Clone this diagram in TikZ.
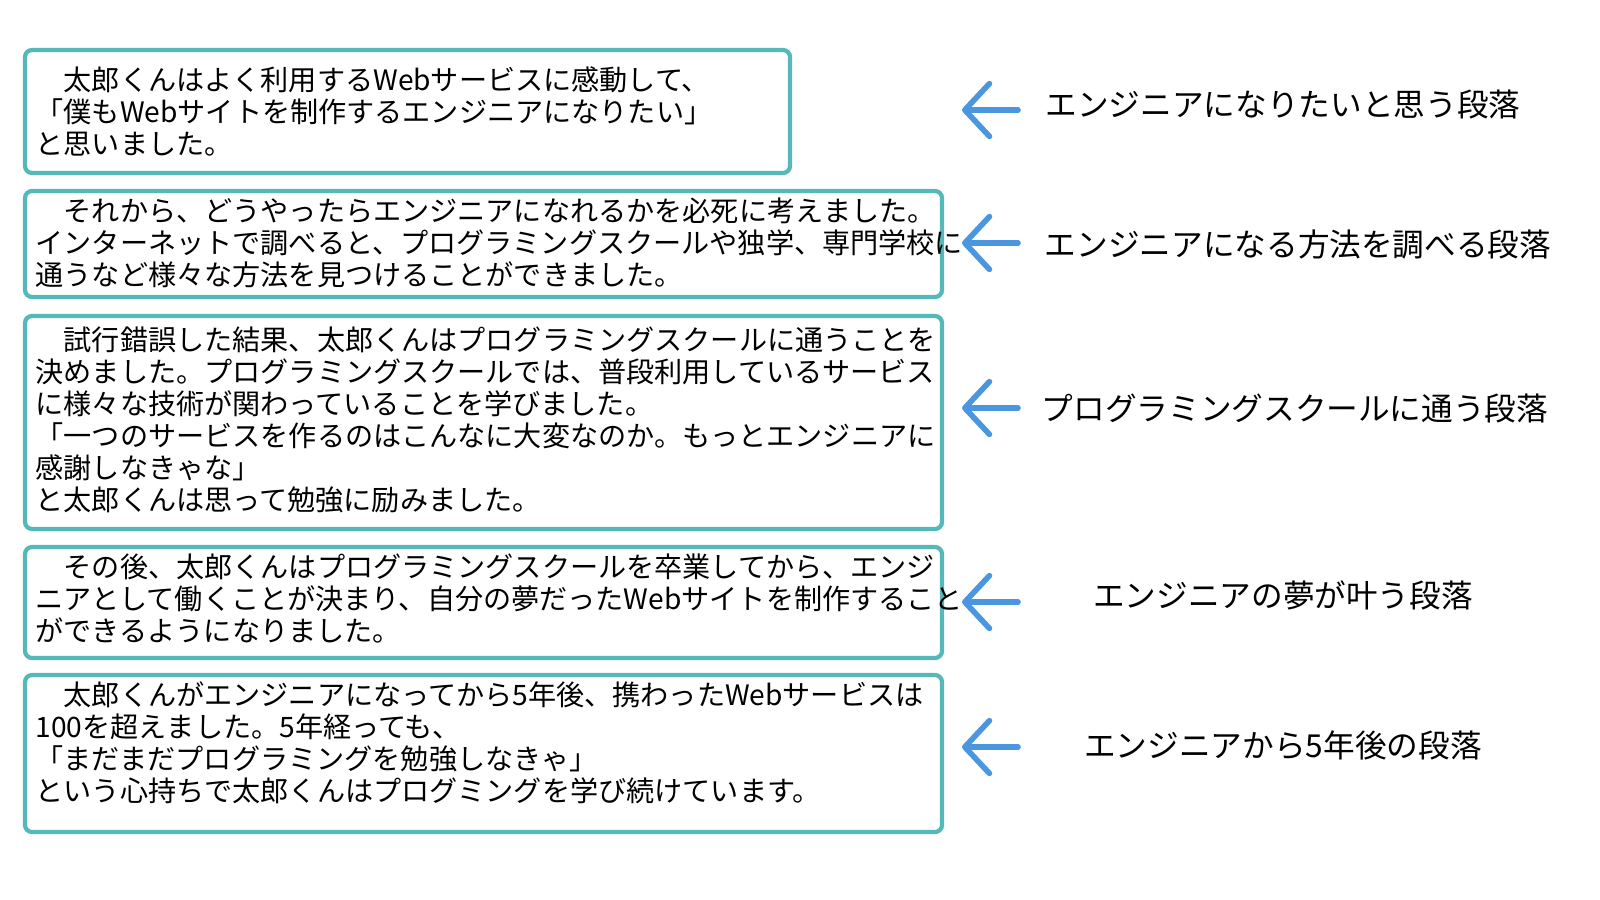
\documentclass[tikz,border=0pt]{standalone}
\usepackage{fontspec}
\setmainfont{Noto Sans CJK JP}
\usetikzlibrary{arrows.meta}

\definecolor{boxteal}{HTML}{55B9B9}
\definecolor{arrowblue}{HTML}{4A97E0}

\tikzset{
  parabox/.style={draw=boxteal, line width=1.2pt, rounded corners=2pt},
  paratext/.style={anchor=north west, align=left, inner sep=0pt, font=\fontsize{8pt}{9.1pt}\selectfont},
  backarrow/.style={draw=arrowblue, line width=1.6pt, line cap=round,
    -{Straight Barb[length=7pt, width=15pt, line cap=round, line join=round]}},
  paralabel/.style={font=\fontsize{9pt}{11pt}\selectfont}
}

\begin{document}
\begin{tikzpicture}[x=0.01cm, y=-0.01cm]
    \useasboundingbox (0,0) rectangle (1600,900);

    % boxes
    \draw[parabox] (25,50) rectangle (790,173);
    \draw[parabox] (25,191) rectangle (942,297);
    \draw[parabox] (25,316) rectangle (942,529);
    \draw[parabox] (25,547) rectangle (942,658);
    \draw[parabox] (25,675) rectangle (942,832);

    % paragraphs
    \node[paratext] (p1) at (35,66) {　太郎くんはよく利用するWebサービスに感動して、\\「僕もWebサイトを制作するエンジニアになりたい」\\と思いました。};
    \node[paratext] (p2) at (35,197) {　それから、どうやったらエンジニアになれるかを必死に考えました。\\インターネットで調べると、プログラミングスクールや独学、専門学校に\\通うなど様々な方法を見つけることができました。};
    \node[paratext] (p3) at (35,326) {　試行錯誤した結果、太郎くんはプログラミングスクールに通うことを\\決めました。プログラミングスクールでは、普段利用しているサービス\\に様々な技術が関わっていることを学びました。\\「一つのサービスを作るのはこんなに大変なのか。もっとエンジニアに\\感謝しなきゃな」\\と太郎くんは思って勉強に励みました。};
    \node[paratext] (p4) at (35,553) {　その後、太郎くんはプログラミングスクールを卒業してから、エンジ\\ニアとして働くことが決まり、自分の夢だったWebサイトを制作すること\\ができるようになりました。};
    \node[paratext] (p5) at (35,681) {　太郎くんがエンジニアになってから5年後、携わったWebサービスは\\100を超えました。5年経っても、\\「まだまだプログラミングを勉強しなきゃ」\\という心持ちで太郎くんはプログミングを学び続けています。};

    % labels
    \node[paralabel] (l1) at (1283,105) {エンジニアになりたいと思う段落};
    \node[paralabel] (l2) at (1298,245) {エンジニアになる方法を調べる段落};
    \node[paralabel] (l3) at (1295,408) {プログラミングスクールに通う段落};
    \node[paralabel] (l4) at (1283,595) {エンジニアの夢が叶う段落};
    \node[paralabel] (l5) at (1283,745) {エンジニアから5年後の段落};

    % arrows
    \foreach \y/\n in {110/1, 243/2, 408/3, 602/4, 747/5} {
        \coordinate (a\n) at (1018,\y);
        \coordinate (b\n) at (962,\y);
        \draw[backarrow] (a\n) -- (b\n);
    }
\end{tikzpicture}
\end{document}
